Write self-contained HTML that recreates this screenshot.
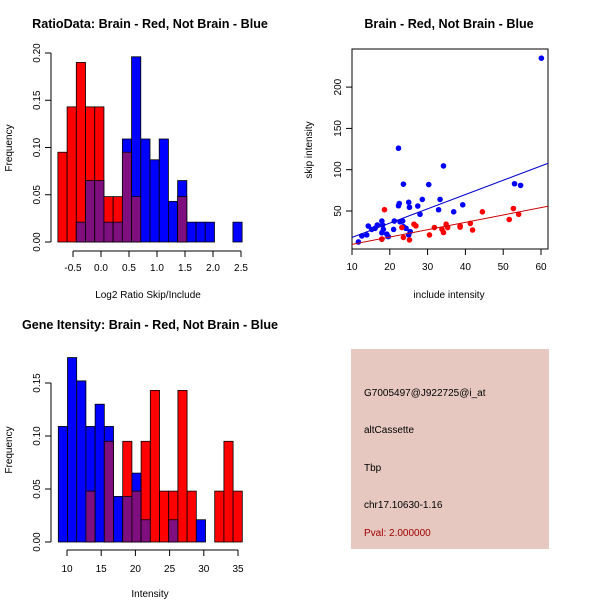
<!DOCTYPE html>
<html><head><meta charset="utf-8"><style>
body{margin:0;background:#fff;width:600px;height:600px;overflow:hidden}
svg{font-family:"Liberation Sans",sans-serif}
</style></head><body>
<svg id="s" width="600" height="600" xmlns="http://www.w3.org/2000/svg">
<text x="150" y="28" font-size="12.6" font-weight="bold" text-anchor="middle">RatioData: Brain - Red, Not Brain - Blue</text>
<text x="449" y="28" font-size="12.6" font-weight="bold" text-anchor="middle">Brain - Red, Not Brain - Blue</text>
<text x="150" y="329" font-size="12.6" font-weight="bold" text-anchor="middle">Gene Itensity: Brain - Red, Not Brain - Blue</text>
<text x="148" y="298" font-size="10" text-anchor="middle">Log2 Ratio Skip/Include</text>
<text x="12" y="148" font-size="10" text-anchor="middle" transform="rotate(-90 12 148)">Frequency</text>
<text x="150" y="597" font-size="10" text-anchor="middle">Intensity</text>
<text x="12" y="450" font-size="10" text-anchor="middle" transform="rotate(-90 12 450)">Frequency</text>
<text x="449" y="298" font-size="10" text-anchor="middle">include intensity</text>
<text x="312" y="150" font-size="10" text-anchor="middle" transform="rotate(-90 312 150)">skip intensity</text>
<g>
<rect x="351" y="349" width="198" height="200" fill="#e6c8c0"/>
<text x="364" y="396" font-size="10">G7005497@J922725@i_at</text>
<text x="364" y="433" font-size="10">altCassette</text>
<text x="364" y="471" font-size="10">Tbp</text>
<text x="364" y="508" font-size="10">chr17.10630-1.16</text>
<text x="364" y="536" font-size="10" fill="#a00000">Pval: 2.000000</text>
</g>
</svg>
<script>
// Ratio histogram
const ratioStart=-0.77, ratioWidth=0.1645;
const ratioRed=[0.095,0.143,0.19,0.143,0.143,0.048,0.048,0.095,0.048,0,0,0,0,0.048,0,0,0,0,0,0];
const ratioBlue=[0,0,0.021,0.065,0.065,0.021,0.021,0.109,0.196,0.109,0.087,0.109,0.043,0.065,0.021,0.021,0.021,0,0,0.021];
const ratioXTicks=[-0.5,0,0.5,1,1.5,2,2.5];
const ratioXLabels=["-0.5","0.0","0.5","1.0","1.5","2.0","2.5"];
const ratioYTicks=[0,0.05,0.1,0.15,0.2];
const ratioYLabels=["0.00","0.05","0.10","0.15","0.20"];
// Intensity histogram
const intStart=8.73, intWidth=1.345;
const intRed=[0,0,0,0.048,0,0.095,0,0.095,0.048,0.095,0.143,0.048,0.048,0.143,0.048,0,0,0.048,0.095,0.048];
const intBlue=[0.109,0.174,0.152,0.109,0.13,0.109,0.043,0.043,0.065,0.021,0,0,0.021,0,0,0.021,0,0,0,0];
const intXTicks=[10,15,20,25,30,35];
const intYTicks=[0,0.05,0.1,0.15];
const intYLabels=["0.00","0.05","0.10","0.15"];
// Scatter
const blueX=[11.7,12.6,13.9,14.3,15.2,16.1,16.7,17.9,17.9,18.1,18.3,17.9,19.2,19.6,21,21.2,22.3,22.5,22.3,22.7,23.4,23.6,23.6,24.3,25,25.2,25.4,25,28,28.6,27.4,30.3,33.3,32.9,34.2,36.9,39.3,53,54.6,60.1];
const blueY=[12.5,19.8,21,31.8,27.7,29,33,37.8,23.7,33,27.7,16,22,19,27.7,37.8,56.4,59,126,37,37.8,31,82.5,29,60.5,54.5,25,21,46,64,56,82,64,51.5,104.6,49,57.5,83,81,235];
const redX=[18.6,17.9,23.2,23.6,25.2,26.4,26.9,30.5,31.8,33.8,34.2,34.9,35.3,38.6,38.6,41.3,41.9,44.5,51.6,52.7,54.1];
const redY=[51.6,16,30,18,15,34,32,21,30,28,24,34,30,32,30.5,35,27,49,39.7,53,46];
const fitBlue=[0.7,1.73]; // intercept, slope
const fitRed=[0.7,0.89];
const scXTicks=[10,20,30,40,50,60];
const scYTicks=[50,100,150,200];

const S=document.getElementById('s'),NS='http://www.w3.org/2000/svg';
function mk(t,a,p){const e=document.createElementNS(NS,t);for(const k in a)e.setAttribute(k,a[k]);(p||S).appendChild(e);return e;}
function txt(x,y,s,extra){const e=mk('text',Object.assign({x:x,y:y,'font-size':10,'text-anchor':'middle'},extra||{}));e.textContent=s;return e;}

function hist(name,start,w,red,blue,xs,ys,xTicks,xLabels,yTicks,yLabels,axY,labY){
  const g=mk('g',{});
  
  
  for(let i=0;i<red.length;i++){
    const x0=xs(start+i*w),x1=xs(start+(i+1)*w);
    const r=red[i],b=blue[i],m=Math.min(r,b);
    const draw=(v,c,n)=>{if(v<=0)return;const e=mk('rect',{x:x0,y:ys(v),width:x1-x0,height:ys(0)-ys(v),fill:c,stroke:'#000','stroke-width':0.8},g);
      
      };
    if(r>=b){draw(r,'#ff0000','bar-red');draw(m,'#7f0f7f','bar-overlap');}
    else{draw(b,'#0000ff','bar-blue');draw(m,'#7f0f7f','bar-overlap');}
  }
  const ax=mk('g',{stroke:'#000','stroke-width':1,fill:'none'},g);
  
  
  mk('line',{x1:xs(xTicks[0]),x2:xs(xTicks[xTicks.length-1]),y1:axY,y2:axY},ax);
  xTicks.forEach((t,i)=>{mk('line',{x1:xs(t),x2:xs(t),y1:axY,y2:axY+6},ax);
    const l=txt(xs(t),labY,xLabels[i]);
    
    });
  const ay=mk('g',{stroke:'#000','stroke-width':1,fill:'none'},g);
  
  
  mk('line',{x1:51,x2:51,y1:ys(yTicks[0]),y2:ys(yTicks[yTicks.length-1])},ay);
  yTicks.forEach((t,i)=>{mk('line',{x1:45,x2:51,y1:ys(t),y2:ys(t)},ay);
    const l=txt(40,ys(t),yLabels[i],{transform:`rotate(-90 40 ${ys(t)})`});
    
    });
}
hist('ratio-histogram',ratioStart,ratioWidth,ratioRed,ratioBlue,v=>101+v*56,v=>242-v*945,ratioXTicks,ratioXLabels,ratioYTicks,ratioYLabels,251,271);
hist('intensity-histogram',intStart,intWidth,intRed,intBlue,v=>67+(v-10)*6.84,v=>542-v*1060,intXTicks,intXTicks.map(String),intYTicks,intYLabels,550,572);

const sx=v=>352+(v-10)*3.78, sy=v=>211-(v-50)*0.826;
const sg=mk('g',{});


const box=mk('rect',{x:352,y:49,width:196,height:200,fill:'none',stroke:'#000'},sg);


const cp=mk('clipPath',{id:'cp'},sg);mk('rect',{x:352,y:49,width:196,height:200},cp);
scXTicks.forEach(t=>{mk('line',{x1:sx(t),x2:sx(t),y1:249,y2:255,stroke:'#000'},sg);
  const l=txt(sx(t),270,String(t));
  
  });
scYTicks.forEach(t=>{mk('line',{x1:346,x2:352,y1:sy(t),y2:sy(t),stroke:'#000'},sg);
  const l=txt(341,sy(t),String(t),{transform:`rotate(-90 341 ${sy(t)})`});
  
  });
const lg=mk('g',{'clip-path':'url(#cp)'},sg);
blueX.forEach((x,i)=>{const c=mk('circle',{cx:sx(x),cy:sy(blueY[i]),r:2.8,fill:'#0000ff'},lg);
  
  });
redX.forEach((x,i)=>{const c=mk('circle',{cx:sx(x),cy:sy(redY[i]),r:2.8,fill:'#ff0000'},lg);
  
  });
[[fitBlue,'#0000cc','fit-line-blue'],[fitRed,'#cc0000','fit-line-red']].forEach(([f,c,n])=>{
  const l=mk('line',{x1:sx(5),y1:sy(f[0]+f[1]*5),x2:sx(65),y2:sy(f[0]+f[1]*65),stroke:c,'stroke-width':1},lg);
  
  });
</script>
</body></html>
